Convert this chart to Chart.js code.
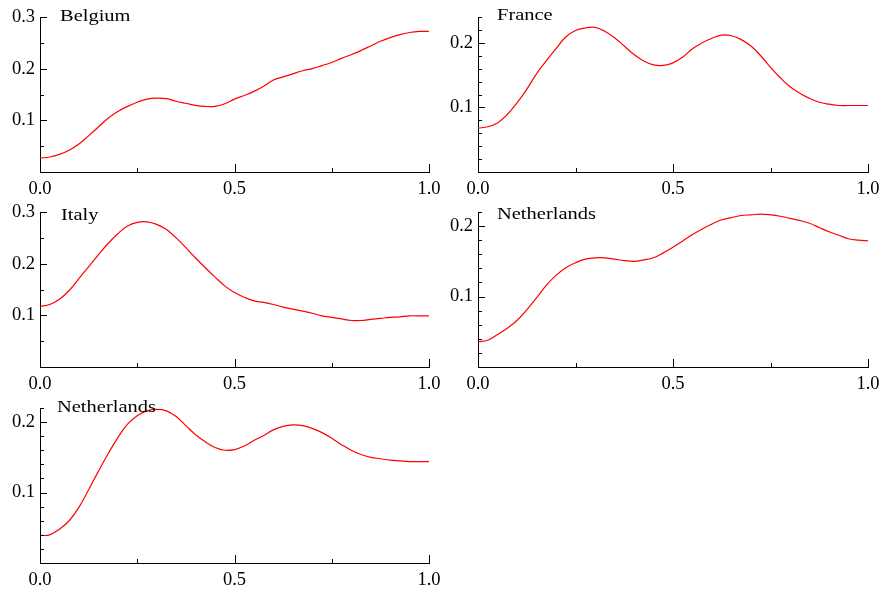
<!DOCTYPE html>
<html>
<head>
<meta charset="utf-8">
<script src="https://cdn.jsdelivr.net/npm/chart.js@4.4.1/dist/chart.umd.min.js"></script>
<style>
  body { margin: 0; background: #fff; }
  #wrap { position: relative; width: 884px; height: 591px; }
  #wrap canvas { position: absolute; }
</style>
</head>
<body>
<div id="wrap"></div>
<script>
// shared x grid
const xs = [0, 0.025, 0.05, 0.075, 0.1, 0.125, 0.15, 0.175, 0.2, 0.225,
            0.25, 0.275, 0.3, 0.325, 0.35, 0.375, 0.4, 0.425, 0.45, 0.475,
            0.5, 0.525, 0.55, 0.575, 0.6, 0.625, 0.65, 0.675, 0.7, 0.725,
            0.75, 0.775, 0.8, 0.825, 0.85, 0.875, 0.9, 0.925, 0.95, 0.975, 1.0];

// density curves
const belgium = [0.027, 0.029, 0.034, 0.042, 0.054, 0.070, 0.087, 0.104, 0.117, 0.127,
                 0.135, 0.141, 0.143, 0.142, 0.137, 0.133, 0.129, 0.127, 0.127, 0.132,
                 0.141, 0.148, 0.156, 0.166, 0.178, 0.184, 0.190, 0.196, 0.200, 0.206,
                 0.212, 0.220, 0.227, 0.235, 0.244, 0.253, 0.260, 0.266, 0.270, 0.272, 0.272];
const france = [0.068, 0.070, 0.076, 0.089, 0.107, 0.128, 0.152, 0.172, 0.191, 0.209,
                0.219, 0.223, 0.224, 0.218, 0.208, 0.195, 0.182, 0.172, 0.166, 0.165,
                0.169, 0.178, 0.191, 0.200, 0.207, 0.212, 0.211, 0.205, 0.195, 0.180,
                0.162, 0.146, 0.132, 0.122, 0.114, 0.108, 0.105, 0.103, 0.103, 0.103, 0.103];
const italy = [0.117, 0.121, 0.131, 0.148, 0.171, 0.194, 0.217, 0.239, 0.258, 0.273,
               0.280, 0.281, 0.276, 0.266, 0.250, 0.231, 0.211, 0.192, 0.174, 0.157,
               0.144, 0.135, 0.128, 0.125, 0.121, 0.116, 0.112, 0.108, 0.104, 0.099,
               0.096, 0.093, 0.090, 0.090, 0.092, 0.094, 0.096, 0.097, 0.099, 0.099, 0.099];
const netherlands1 = [0.036, 0.038, 0.046, 0.055, 0.066, 0.081, 0.098, 0.116, 0.130, 0.141,
                      0.148, 0.153, 0.155, 0.155, 0.153, 0.151, 0.150, 0.152, 0.155, 0.162,
                      0.170, 0.179, 0.188, 0.196, 0.203, 0.209, 0.212, 0.215, 0.216, 0.217,
                      0.216, 0.214, 0.211, 0.208, 0.204, 0.198, 0.192, 0.187, 0.182, 0.180, 0.179];
const netherlands2 = [0.039, 0.040, 0.048, 0.060, 0.079, 0.104, 0.130, 0.155, 0.178, 0.197,
                      0.209, 0.216, 0.218, 0.216, 0.208, 0.195, 0.182, 0.172, 0.164, 0.160,
                      0.161, 0.166, 0.174, 0.181, 0.189, 0.194, 0.196, 0.195, 0.191, 0.185,
                      0.177, 0.168, 0.160, 0.154, 0.150, 0.148, 0.146, 0.145, 0.144, 0.144, 0.144];

const titles = ['Belgium', 'France', 'Italy', 'Netherlands', 'Netherlands'];
const series = [belgium, france, italy, netherlands1, netherlands2];

// axis ticks
const yMax   = [0.3, 0.24, 0.3, 0.22, 0.22];
const yMajor = [[0.1, 0.2, 0.3], [0.1, 0.2], [0.1, 0.2, 0.3], [0.1, 0.2], [0.1, 0.2]];
const yMinor = [
  [0.05, 0.15, 0.25],
  [0.02, 0.04, 0.06, 0.08, 0.12, 0.14, 0.16, 0.18, 0.22, 0.24],
  [0.05, 0.15, 0.25],
  [0.02, 0.04, 0.06, 0.08, 0.12, 0.14, 0.16, 0.18, 0.22],
  [0.02, 0.04, 0.06, 0.08, 0.12, 0.14, 0.16, 0.18, 0.22]
];
const xMajor = [0, 0.5, 1.0];
const xMinor = [0.25, 0.75];

// panel boxes on the page (layout only)
const panels = [
  {left: 0,   top: 0,   w: 442, h: 200, right: 13, tx: 60, ty: 20.5},
  {left: 438, top: 0,   w: 446, h: 200, right: 16, tx: 59, ty: 20},
  {left: 0,   top: 195, w: 442, h: 200, right: 13, tx: 61, ty: 24.5},
  {left: 438, top: 195, w: 446, h: 200, right: 16, tx: 59, ty: 23.5},
  {left: 0,   top: 391, w: 442, h: 200, right: 13, tx: 57, ty: 20.5}
];

const FONT = '"Liberation Serif", "Times New Roman", serif';

/* inside tick marks + panel title */
const insideTicks = {
  id: 'insideTicks',
  afterDatasetsDraw(chart, args, opts) {
    const ctx = chart.ctx;
    const a = chart.chartArea;
    const xS = chart.scales.x, yS = chart.scales.y;
    ctx.save();
    ctx.strokeStyle = '#000';
    ctx.lineWidth = 1;
    ctx.beginPath();
    opts.yMajor.forEach(v => {
      const y = Math.round(yS.getPixelForValue(v)) + 0.5;
      ctx.moveTo(a.left, y); ctx.lineTo(a.left + 7, y);
    });
    opts.yMinor.forEach(v => {
      const y = Math.round(yS.getPixelForValue(v)) + 0.5;
      ctx.moveTo(a.left, y); ctx.lineTo(a.left + 4, y);
    });
    opts.xMajor.forEach(v => {
      const x = Math.round(xS.getPixelForValue(v)) + 0.5;
      ctx.moveTo(x, a.bottom); ctx.lineTo(x, a.bottom - 8);
    });
    opts.xMinor.forEach(v => {
      const x = Math.round(xS.getPixelForValue(v)) + 0.5;
      ctx.moveTo(x, a.bottom); ctx.lineTo(x, a.bottom - 4);
    });
    ctx.stroke();

    // title text is a little wider than plain Times in the original
    ctx.fillStyle = '#000';
    ctx.font = '17.5px ' + FONT;
    ctx.textAlign = 'left';
    ctx.textBaseline = 'alphabetic';
    ctx.translate(opts.tx, opts.ty);
    ctx.scale(1.17, 1);
    ctx.fillText(opts.title, 0, 0);
    ctx.restore();
  }
};

const wrap = document.getElementById('wrap');

panels.forEach((p, i) => {
  const cv = document.createElement('canvas');
  cv.width = p.w; cv.height = p.h;
  cv.style.left = p.left + 'px';
  cv.style.top = p.top + 'px';
  cv.style.width = p.w + 'px';
  cv.style.height = p.h + 'px';
  wrap.appendChild(cv);

  const pts = xs.map((x, k) => ({x: x, y: series[i][k]}));

  new Chart(cv, {
    type: 'line',
    data: {
      datasets: [{
        data: pts,
        borderColor: '#ff0000',
        borderWidth: 1.2,
        pointRadius: 0,
        fill: false,
        tension: 0.4
      }]
    },
    options: {
      responsive: false,
      animation: false,
      devicePixelRatio: 1,
      layout: { padding: { top: 17, right: p.right, left: 0, bottom: 0 } },
      plugins: {
        legend: { display: false },
        tooltip: { enabled: false },
        insideTicks: {
          title: titles[i], tx: p.tx, ty: p.ty,
          yMajor: yMajor[i], yMinor: yMinor[i],
          xMajor: xMajor, xMinor: xMinor
        }
      },
      scales: {
        x: {
          type: 'linear',
          min: 0, max: 1,
          afterBuildTicks: s => { s.ticks = xMajor.map(v => ({value: v})); },
          afterFit: s => { s.height = 28; s.paddingLeft = 0; s.paddingRight = 0; },
          grid: { display: false, drawTicks: false },
          border: { display: true, color: '#000', width: 1 },
          ticks: {
            autoSkip: false, maxRotation: 0, padding: 6,
            color: '#000',
            font: { family: FONT, size: 18.5 },
            callback: v => Number(v).toFixed(1)
          }
        },
        y: {
          type: 'linear',
          min: 0, max: yMax[i],
          afterBuildTicks: s => { s.ticks = yMajor[i].map(v => ({value: v})); },
          afterFit: s => { s.width = 40; s.paddingTop = 0; s.paddingBottom = 0; },
          grid: { display: false, drawTicks: false },
          border: { display: true, color: '#000', width: 1 },
          ticks: {
            padding: 5,
            color: '#000',
            font: { family: FONT, size: 18.5 },
            callback: v => Number(v).toFixed(1)
          }
        }
      }
    },
    plugins: [insideTicks]
  });
});
</script>
</body>
</html>
